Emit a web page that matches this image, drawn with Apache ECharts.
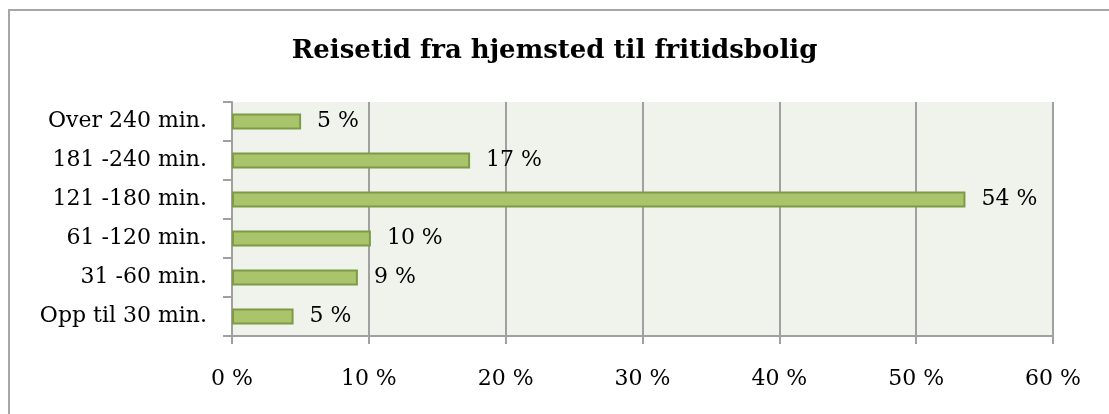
<!DOCTYPE html>
<html>
<head>
<meta charset="utf-8">
<script src="https://cdn.jsdelivr.net/npm/echarts@6/dist/echarts.min.js"></script>
<style>
html,body{margin:0;padding:0;background:#fff;overflow:hidden;}
#wrap{position:relative;width:1109px;height:414px;overflow:hidden;}
#chart{width:1109px;height:414px;}
#frame{position:absolute;left:8px;top:9px;width:1200px;height:500px;border-top:2px solid #a6a6a6;border-left:2px solid #a6a6a6;pointer-events:none;}
</style>
</head>
<body>
<div id="wrap">
<div id="chart"></div>
<div id="frame"></div>
</div>
<script>
var title = 'Reisetid fra hjemsted til fritidsbolig';
var categories = ['Opp til 30 min.', '31 -60 min.', '61 -120 min.', '121 -180 min.', '181 -240 min.', 'Over 240 min.'];
var values = [4.5, 9.2, 10.15, 53.6, 17.4, 5.05];
var xTicks = [0, 10, 20, 30, 40, 50, 60];

var FONT = 'DejaVu Serif';
var chart = echarts.init(document.getElementById('chart'));
chart.setOption({
  animation: false,
  backgroundColor: '#ffffff',
  title: {
    text: title,
    left: 'center',
    top: 33,
    textStyle: {fontFamily: FONT, fontWeight: 'bold', fontSize: 26, color: '#000'}
  },
  grid: {
    left: 232, right: 56, top: 102, bottom: 78,
    show: true, backgroundColor: '#f0f3eb', borderWidth: 0
  },
  xAxis: {
    type: 'value',
    min: xTicks[0], max: xTicks[xTicks.length - 1], interval: 10,
    axisLine: {show: true, lineStyle: {color: '#a0a0a0', width: 2}},
    axisTick: {show: true, length: 8, lineStyle: {color: '#a0a0a0', width: 2}},
    splitLine: {show: true, lineStyle: {color: '#a0a0a0', width: 2}},
    axisLabel: {
      margin: 32, color: '#000', fontFamily: FONT, fontSize: 22,
      formatter: function (v) { return v + ' %'; }
    }
  },
  yAxis: {
    type: 'category',
    data: categories,
    axisLine: {show: true, lineStyle: {color: '#a0a0a0', width: 2}},
    axisTick: {show: true, length: 9, lineStyle: {color: '#a0a0a0', width: 2}},
    axisLabel: {margin: 25, color: '#000', fontFamily: FONT, fontSize: 22}
  },
  series: [{
    type: 'bar',
    data: values,
    barWidth: 16,
    itemStyle: {color: '#a9c46b', borderColor: '#7f9a47', borderWidth: 2},
    label: {
      show: true, position: 'right', distance: 16,
      color: '#000', fontFamily: FONT, fontSize: 22,
      formatter: function (p) { return Math.round(p.value) + ' %'; }
    }
  }]
});
</script>
</body>
</html>
